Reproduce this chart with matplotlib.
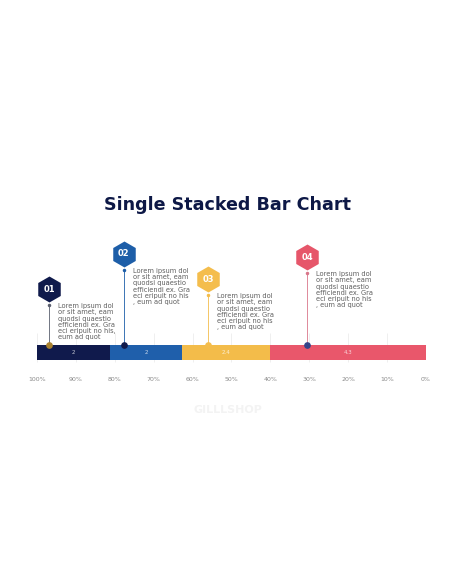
import numpy as np
import matplotlib
matplotlib.use('Agg')
import matplotlib.pyplot as plt

# data
seg_values = [2, 2, 2.4, 4.3]
seg_labels = ['2', '2', '2.4', '4.3']
seg_colors = ['#101a4c', '#1f5fab', '#f3bc4a', '#e9576b']

callout_ids = ['01', '02', '03', '04']
callout_pos = [96.9, 77.7, 56.0, 30.5]       # percent along the axis
callout_height = [78, 113, 88, 110]          # hexagon height above bar base
callout_hex = ['#0f1a4b', '#1d5ea8', '#f4bd4c', '#e6566a']
callout_line = ['#5a5f6e', '#1d5ea8', '#f4bd4c', '#d9768a']
callout_dot = ['#a8812f', '#101a4c', '#f4bd4c', '#34448a']
callout_text = [
    'Lorem ipsum dol\nor sit amet, eam\nquodsi quaestio\nefficiendi ex. Gra\neci eripuit no his,\neum ad quot',
    'Lorem ipsum dol\nor sit amet, eam\nquodsi quaestio\nefficiendi ex. Gra\neci eripuit no his\n, eum ad quot',
    'Lorem ipsum dol\nor sit amet, eam\nquodsi quaestio\nefficiendi ex. Gra\neci eripuit no his\n, eum ad quot',
    'Lorem ipsum dol\nor sit amet, eam\nquodsi quaestio\nefficiendi ex. Gra\neci eripuit no his\n, eum ad quot',
]

ticks = [100, 90, 80, 70, 60, 50, 40, 30, 20, 10, 0]
tick_labels = [f'{t}%' for t in ticks]

fig = plt.figure(figsize=(4.56, 5.86), dpi=100)
fig.patch.set_facecolor('white')

fig.text(0.5, 1 - 205 / 586, 'Single Stacked Bar Chart', ha='center', va='center',
         fontsize=12.6, fontweight='bold', color='#0d1846')
fig.text(0.5, 1 - 410 / 586, 'GILLLSHOP', ha='center', va='center',
         fontsize=8, fontweight='bold', color='#f3f3f3')

ax = fig.add_axes([37 / 456, (586 - 367) / 586, 389 / 456, 137 / 586])
ax.set_xlim(100, 0)
ax.set_ylim(0, 137)
for s in ax.spines.values():
    s.set_visible(False)
ax.set_yticks([])
ax.set_xticks(ticks)
ax.set_xticklabels(tick_labels)
ax.tick_params(axis='x', length=0, pad=7, labelsize=4.5, labelcolor='#8a8a8a')

# grid lines
ax.vlines(ticks, 5, 34, color='#ececec', lw=0.6, zorder=0)

# stacked bar
pcts = np.array(seg_values) / sum(seg_values) * 100
ends = np.cumsum(pcts)
ax.barh(14.5, pcts, left=100 - ends, height=15, color=seg_colors, zorder=2)
for p, e, lab in zip(pcts, ends, seg_labels):
    ax.text(100 - e + p / 2, 14.5, lab, ha='center', va='center',
            fontsize=4, color='white', alpha=0.75, zorder=3)

# callouts
for cid, x, h, hc, lc, dc, txt in zip(callout_ids, callout_pos, callout_height,
                                      callout_hex, callout_line, callout_dot, callout_text):
    ax.plot([x, x], [22, h - 16], color=lc, lw=0.6, zorder=3)
    ax.plot(x, h - 16, 'o', ms=1.5, color=lc, zorder=3)
    ax.plot(x, 22, 'o', ms=3.8, color=dc, zorder=4)
    ax.plot(x, h, 'h', ms=18.7, color=hc, mec='none', zorder=4)
    ax.text(x, h, cid, ha='center', va='center', fontsize=6, fontweight='bold',
            color='white', zorder=5)
    ax.annotate(txt, xy=(x, h - 14), xytext=(6.5, 0), textcoords='offset points',
                ha='left', va='top', fontsize=4.8, color='#5e5e5e', linespacing=1.05)

fig.savefig('out.png', dpi=100)
